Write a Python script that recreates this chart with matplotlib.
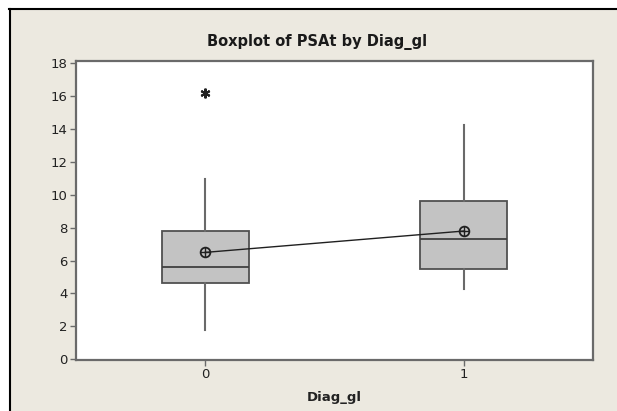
import matplotlib
matplotlib.use("Agg")
import matplotlib.pyplot as plt
from matplotlib.patches import Rectangle
from matplotlib.lines import Line2D

# values
groups = [0, 1]
q1 = [4.65, 5.5]
medians = [5.6, 7.3]
q3 = [7.8, 9.6]
whisk_lo = [1.75, 4.3]
whisk_hi = [10.95, 14.25]
means = [6.5, 7.8]
outliers = [[16.2], []]

bg = '#ECE9E0'

fig = plt.figure(figsize=(6.17, 4.11), dpi=100)
fig.patch.set_facecolor('white')
# beige panel with dark border on the left and top (screenshot frame)
fig.patches.append(Rectangle((9 / 617, 0), 1, 1 - 9 / 411, transform=fig.transFigure,
                             facecolor=bg, edgecolor='none', zorder=-10))
fig.lines.append(Line2D([9.5 / 617, 9.5 / 617], [0, 1 - 9 / 411], transform=fig.transFigure,
                        color='black', lw=1.5))
fig.lines.append(Line2D([9 / 617, 1], [1 - 9.5 / 411, 1 - 9.5 / 411], transform=fig.transFigure,
                        color='black', lw=1.5))

ax = fig.add_axes([76 / 617, 51 / 411, 517 / 617, 299 / 411])
ax.set_facecolor('white')

stats = []
for i in range(len(groups)):
    stats.append(dict(med=medians[i], q1=q1[i], q3=q3[i],
                      whislo=whisk_lo[i], whishi=whisk_hi[i], fliers=outliers[i]))

ax.bxp(stats, positions=groups, widths=0.335, patch_artist=True, showfliers=True,
       boxprops=dict(facecolor='#C3C3C3', edgecolor='#505050', linewidth=1.3),
       medianprops=dict(color='#404040', linewidth=1.3),
       whiskerprops=dict(color='#6A6A6A', linewidth=1.5),
       capprops=dict(linewidth=0),
       flierprops=dict(marker=(6, 2, 0), markersize=7, markeredgecolor='#222222',
                       markeredgewidth=1.5, linestyle='none'))

# mean connect line with circle-plus symbols
ax.plot(groups, means, color='#202020', lw=1.0, zorder=4)
ax.plot(groups, means, 'o', ms=7, mfc='none', mec='#202020', mew=1.3, zorder=5)
ax.plot(groups, means, '+', ms=7, mec='#202020', mew=1.0, zorder=5)

ax.set_xlim(-0.5, 1.5)
ax.set_ylim(-0.05, 18.15)
ax.set_yticks(range(0, 19, 2))
ax.set_xticks(groups)
ax.set_xticklabels([str(g) for g in groups])

for s in ax.spines.values():
    s.set_color('#6A6A6A')
    s.set_linewidth(1.6)
ax.tick_params(direction='out', length=4, width=1.0, color='#6A6A6A',
               labelsize=9.5, labelcolor='#222222', pad=2)

ax.set_xlabel('Diag_gl', fontsize=9.5, fontweight='bold', color='#222222', labelpad=7)
fig.text(317 / 617, 1 - 42 / 411, 'Boxplot of PSAt by Diag_gl', ha='center', va='center',
         fontsize=10.5, fontweight='bold', color='#1A1A1A')

fig.savefig('out.png', dpi=100, facecolor=fig.get_facecolor())
